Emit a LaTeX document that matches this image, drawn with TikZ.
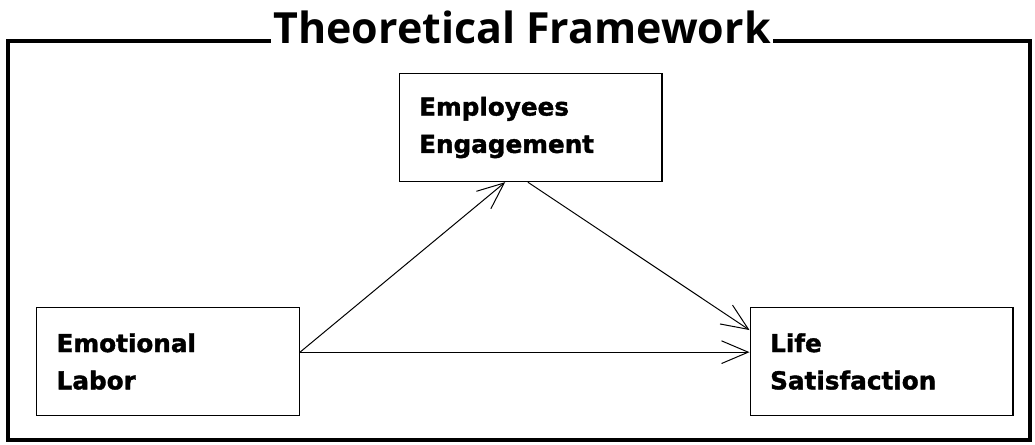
\documentclass[tikz,border=0pt]{standalone}
\usepackage{fontspec}
\usepackage{tikz}
\usetikzlibrary{arrows.meta}
\newfontfamily\labelfont[BoldFeatures={FakeBold=1.5}]{DejaVu Sans}
\newfontfamily\titlefont{Open Sans}

\begin{document}
\begin{tikzpicture}[x=0.75pt,y=-0.75pt,>={Straight Barb[length=20pt,width=17pt]},
  varbox/.style={draw,line width=1pt,minimum width=197pt,minimum height=81pt,
    text width=167pt,align=left,inner xsep=15pt,
    font=\labelfont\bfseries\fontsize{18.5}{28}\selectfont},
  link/.style={->,line width=0.75pt}]
  \useasboundingbox (0,0) rectangle (1035,444);

  % ================= outer frame and heading =================
  \draw[line width=3.5pt] (8,41) rectangle (1030,440);
  \node[fill=white,inner xsep=2pt,inner ysep=0pt,anchor=base,
    font=\titlefont\bfseries\fontsize{32.2}{32.2}\selectfont] (title) at (522,43)
    {Theoretical Framework};

  % ================= variables =================
  \node[varbox] (emp) at (530.5,127.5) {Employees\\Engagement};
  \node[varbox] (emo) at (168,361.5) {Emotional\\Labor};
  \node[varbox] (life) at (881.5,361.5) {Life\\Satisfaction};

  % ================= paths =================
  \draw[link] ([yshift=7pt]emo.east) -- ([xshift=-19pt]emp.south);
  \draw[link] ([xshift=-2pt]emp.south) -- ([yshift=23.6pt]life.west);
  \draw[link] ([yshift=7pt]emo.east) -- ([yshift=7pt]life.west);

\end{tikzpicture}
\end{document}
